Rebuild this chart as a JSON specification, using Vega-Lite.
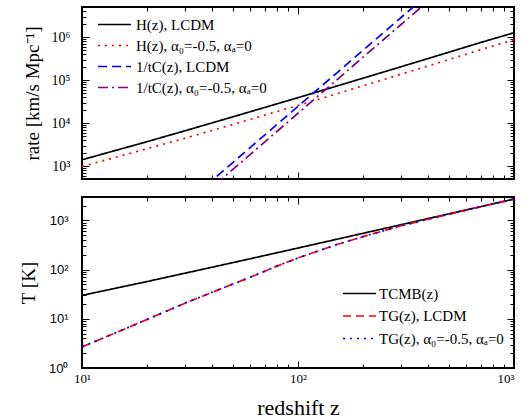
{
  "$schema": "https://vega.github.io/schema/vega-lite/v6.json",
  "padding": {"left": 18, "top": 5, "right": 5, "bottom": 0},
  "spacing": 14,
  "datasets": {
    "top": [
      {"z": 10, "rate": 1400, "series": "H(z), LCDM"},
      {"z": 20, "rate": 3690, "series": "H(z), LCDM"},
      {"z": 30, "rate": 6620, "series": "H(z), LCDM"},
      {"z": 50, "rate": 13980, "series": "H(z), LCDM"},
      {"z": 100, "rate": 38950, "series": "H(z), LCDM"},
      {"z": 150, "rate": 71700, "series": "H(z), LCDM"},
      {"z": 200, "rate": 110500, "series": "H(z), LCDM"},
      {"z": 300, "rate": 204000, "series": "H(z), LCDM"},
      {"z": 500, "rate": 445000, "series": "H(z), LCDM"},
      {"z": 700, "rate": 745000, "series": "H(z), LCDM"},
      {"z": 1000, "rate": 1260000, "series": "H(z), LCDM"},
      {"z": 10, "rate": 980, "series": "H(z), α₀=-0.5, αₐ=0"},
      {"z": 20, "rate": 2530, "series": "H(z), α₀=-0.5, αₐ=0"},
      {"z": 30, "rate": 4440, "series": "H(z), α₀=-0.5, αₐ=0"},
      {"z": 50, "rate": 9300, "series": "H(z), α₀=-0.5, αₐ=0"},
      {"z": 100, "rate": 25700, "series": "H(z), α₀=-0.5, αₐ=0"},
      {"z": 150, "rate": 47300, "series": "H(z), α₀=-0.5, αₐ=0"},
      {"z": 200, "rate": 73500, "series": "H(z), α₀=-0.5, αₐ=0"},
      {"z": 300, "rate": 136700, "series": "H(z), α₀=-0.5, αₐ=0"},
      {"z": 500, "rate": 300000, "series": "H(z), α₀=-0.5, αₐ=0"},
      {"z": 700, "rate": 506600, "series": "H(z), α₀=-0.5, αₐ=0"},
      {"z": 1000, "rate": 863000, "series": "H(z), α₀=-0.5, αₐ=0"},
      {"z": 30, "rate": 133, "series": "1/tC(z), LCDM"},
      {"z": 40, "rate": 463, "series": "1/tC(z), LCDM"},
      {"z": 60, "rate": 2680, "series": "1/tC(z), LCDM"},
      {"z": 100, "rate": 24500, "series": "1/tC(z), LCDM"},
      {"z": 150, "rate": 141600, "series": "1/tC(z), LCDM"},
      {"z": 200, "rate": 493000, "series": "1/tC(z), LCDM"},
      {"z": 300, "rate": 2850000, "series": "1/tC(z), LCDM"},
      {"z": 400, "rate": 9900000, "series": "1/tC(z), LCDM"},
      {"z": 30, "rate": 92, "series": "1/tC(z), α₀=-0.5, αₐ=0"},
      {"z": 40, "rate": 319, "series": "1/tC(z), α₀=-0.5, αₐ=0"},
      {"z": 60, "rate": 1850, "series": "1/tC(z), α₀=-0.5, αₐ=0"},
      {"z": 100, "rate": 16900, "series": "1/tC(z), α₀=-0.5, αₐ=0"},
      {"z": 150, "rate": 97500, "series": "1/tC(z), α₀=-0.5, αₐ=0"},
      {"z": 200, "rate": 339500, "series": "1/tC(z), α₀=-0.5, αₐ=0"},
      {"z": 300, "rate": 1960000, "series": "1/tC(z), α₀=-0.5, αₐ=0"},
      {"z": 400, "rate": 6820000, "series": "1/tC(z), α₀=-0.5, αₐ=0"},
      {"z": 450, "rate": 11300000, "series": "1/tC(z), α₀=-0.5, αₐ=0"}
    ],
    "bottom": [
      {"z": 10, "T": 29.98, "series": "TCMB(z)"},
      {"z": 20, "T": 57.2, "series": "TCMB(z)"},
      {"z": 50, "T": 139, "series": "TCMB(z)"},
      {"z": 100, "T": 275.2, "series": "TCMB(z)"},
      {"z": 200, "T": 547.7, "series": "TCMB(z)"},
      {"z": 500, "T": 1365, "series": "TCMB(z)"},
      {"z": 1000, "T": 2728, "series": "TCMB(z)"},
      {"z": 10, "T": 2.69, "series": "TG(z), LCDM"},
      {"z": 15, "T": 5.67, "series": "TG(z), LCDM"},
      {"z": 20, "T": 9.7, "series": "TG(z), LCDM"},
      {"z": 30, "T": 20.8, "series": "TG(z), LCDM"},
      {"z": 40, "T": 34.6, "series": "TG(z), LCDM"},
      {"z": 60, "T": 69.8, "series": "TG(z), LCDM"},
      {"z": 80, "T": 118, "series": "TG(z), LCDM"},
      {"z": 100, "T": 173, "series": "TG(z), LCDM"},
      {"z": 150, "T": 320, "series": "TG(z), LCDM"},
      {"z": 200, "T": 468, "series": "TG(z), LCDM"},
      {"z": 300, "T": 779, "series": "TG(z), LCDM"},
      {"z": 400, "T": 1060, "series": "TG(z), LCDM"},
      {"z": 600, "T": 1621, "series": "TG(z), LCDM"},
      {"z": 1000, "T": 2722, "series": "TG(z), LCDM"},
      {"z": 10, "T": 2.69, "series": "TG(z), α₀=-0.5, αₐ=0"},
      {"z": 15, "T": 5.67, "series": "TG(z), α₀=-0.5, αₐ=0"},
      {"z": 20, "T": 9.7, "series": "TG(z), α₀=-0.5, αₐ=0"},
      {"z": 30, "T": 20.8, "series": "TG(z), α₀=-0.5, αₐ=0"},
      {"z": 40, "T": 34.6, "series": "TG(z), α₀=-0.5, αₐ=0"},
      {"z": 60, "T": 69.8, "series": "TG(z), α₀=-0.5, αₐ=0"},
      {"z": 80, "T": 118, "series": "TG(z), α₀=-0.5, αₐ=0"},
      {"z": 100, "T": 173, "series": "TG(z), α₀=-0.5, αₐ=0"},
      {"z": 150, "T": 320, "series": "TG(z), α₀=-0.5, αₐ=0"},
      {"z": 200, "T": 468, "series": "TG(z), α₀=-0.5, αₐ=0"},
      {"z": 300, "T": 779, "series": "TG(z), α₀=-0.5, αₐ=0"},
      {"z": 400, "T": 1060, "series": "TG(z), α₀=-0.5, αₐ=0"},
      {"z": 600, "T": 1621, "series": "TG(z), α₀=-0.5, αₐ=0"},
      {"z": 1000, "T": 2722, "series": "TG(z), α₀=-0.5, αₐ=0"}
    ]
  },
  "vconcat": [
    {
      "width": 432,
      "height": 172,
      "data": {"name": "top"},
      "layer": [
        {
          "mark": {"type": "line", "clip": true, "strokeWidth": 1.7},
          "encoding": {
            "x": {"field": "z", "type": "quantitative", "scale": {"type": "log", "domain": [10, 1000], "nice": false},
                  "axis": {"orient": "bottom", "values": [10, 100, 1000], "labels": false, "ticks": false, "title": null}},
            "y": {"field": "rate", "type": "quantitative", "scale": {"type": "log", "domain": [500, 5000000], "nice": false},
                  "axis": {"orient": "left", "values": [1000, 10000, 100000, 1000000], "ticks": false,
                           "labelExpr": "'10' + ['⁰','¹','²','³','⁴','⁵','⁶'][round(log(datum.value)/LN10)]",
                           "labelFont": "Liberation Serif", "labelFontSize": 14, "labelPadding": 12,
                           "title": "rate [km/s Mpc⁻¹]", "titleFontSize": 19, "titlePadding": 9}},
            "color": {"field": "series", "type": "nominal",
                      "scale": {"domain": ["H(z), LCDM", "H(z), α₀=-0.5, αₐ=0", "1/tC(z), LCDM", "1/tC(z), α₀=-0.5, αₐ=0"],
                                "range": ["#000000", "#ff0000", "#0000ff", "#800080"]},
                      "legend": {"orient": "top-left", "offset": 10, "title": null, "symbolOffset": 15, "labelOffset": 14}},
            "strokeDash": {"field": "series", "type": "nominal",
                           "scale": {"domain": ["H(z), LCDM", "H(z), α₀=-0.5, αₐ=0", "1/tC(z), LCDM", "1/tC(z), α₀=-0.5, αₐ=0"],
                                     "range": [[1, 0], [2, 5], [9, 5], [10, 4, 2, 4]]},
                           "legend": {"orient": "top-left", "offset": 10, "title": null, "symbolOffset": 15, "labelOffset": 14}}
          }
        },
        {
          "mark": {"type": "line", "opacity": 0, "clip": true},
          "encoding": {
            "x": {"field": "z", "type": "quantitative", "scale": {"type": "log", "domain": [10, 1000], "nice": false},
                  "axis": {"orient": "bottom", "values": [10, 100, 1000], "labels": false, "tickSize": -7, "title": null}},
            "y": {"field": "rate", "type": "quantitative", "scale": {"type": "log", "domain": [500, 5000000], "nice": false},
                  "axis": {"orient": "left", "values": [1000, 10000, 100000, 1000000], "labels": false, "tickSize": -7, "title": null}}
          }
        },
        {
          "mark": {"type": "line", "opacity": 0, "clip": true},
          "encoding": {
            "x": {"field": "z", "type": "quantitative", "scale": {"type": "log", "domain": [10, 1000], "nice": false},
                  "axis": {"orient": "bottom", "values": [20, 30, 40, 50, 60, 70, 80, 90, 200, 300, 400, 500, 600, 700, 800, 900], "labels": false, "tickSize": -4, "title": null}},
            "y": {"field": "rate", "type": "quantitative", "scale": {"type": "log", "domain": [500, 5000000], "nice": false},
                  "axis": {"orient": "left", "values": [500, 600, 700, 800, 900, 2000, 3000, 4000, 5000, 6000, 7000, 8000, 9000, 20000, 30000, 40000, 50000, 60000, 70000, 80000, 90000, 200000, 300000, 400000, 500000, 600000, 700000, 800000, 900000, 2000000, 3000000, 4000000], "labels": false, "tickSize": -4, "title": null}}
          }
        },
        {
          "mark": {"type": "line", "opacity": 0, "clip": true},
          "encoding": {
            "x": {"field": "z", "type": "quantitative", "scale": {"type": "log", "domain": [10, 1000], "nice": false},
                  "axis": {"orient": "top", "values": [10, 100, 1000], "labels": false, "tickSize": -7, "title": null}},
            "y": {"field": "rate", "type": "quantitative", "scale": {"type": "log", "domain": [500, 5000000], "nice": false},
                  "axis": {"orient": "right", "values": [1000, 10000, 100000, 1000000], "labels": false, "tickSize": -7, "title": null}}
          }
        },
        {
          "mark": {"type": "line", "opacity": 0, "clip": true},
          "encoding": {
            "x": {"field": "z", "type": "quantitative", "scale": {"type": "log", "domain": [10, 1000], "nice": false},
                  "axis": {"orient": "top", "values": [20, 30, 40, 50, 60, 70, 80, 90, 200, 300, 400, 500, 600, 700, 800, 900], "labels": false, "tickSize": -4, "title": null}},
            "y": {"field": "rate", "type": "quantitative", "scale": {"type": "log", "domain": [500, 5000000], "nice": false},
                  "axis": {"orient": "right", "values": [500, 600, 700, 800, 900, 2000, 3000, 4000, 5000, 6000, 7000, 8000, 9000, 20000, 30000, 40000, 50000, 60000, 70000, 80000, 90000, 200000, 300000, 400000, 500000, 600000, 700000, 800000, 900000, 2000000, 3000000, 4000000], "labels": false, "tickSize": -4, "title": null}}
          }
        }
      ],
      "resolve": {"axis": {"x": "independent", "y": "independent"}}
    },
    {
      "width": 432,
      "height": 171,
      "data": {"name": "bottom"},
      "layer": [
        {
          "mark": {"type": "line", "clip": true, "strokeWidth": 1.7},
          "encoding": {
            "x": {"field": "z", "type": "quantitative", "scale": {"type": "log", "domain": [10, 1000], "nice": false},
                  "axis": {"orient": "bottom", "values": [10, 100, 1000], "ticks": false,
                           "labelExpr": "'10' + ['⁰','¹','²','³','⁴','⁵','⁶'][round(log(datum.value)/LN10)]",
                           "labelAlign": {"condition": {"test": "datum.value >= 1000", "value": "right"}, "value": "center"},
                           "labelFont": "Liberation Serif", "labelFontSize": 13, "labelPadding": 4,
                           "title": "redshift z", "titleFontSize": 22, "titlePadding": 12}},
            "y": {"field": "T", "type": "quantitative", "scale": {"type": "log", "domain": [1, 3000], "nice": false},
                  "axis": {"orient": "left", "values": [1, 10, 100, 1000], "ticks": false,
                           "labelExpr": "'10' + ['⁰','¹','²','³','⁴','⁵','⁶'][round(log(datum.value)/LN10)]",
                           "labelFont": "Liberation Sans", "labelFontSize": 13, "labelPadding": 14,
                           "title": "T [K]", "titleFontSize": 19, "titlePadding": 10}},
            "color": {"field": "series", "type": "nominal",
                      "scale": {"domain": ["TCMB(z)", "TG(z), LCDM", "TG(z), α₀=-0.5, αₐ=0"],
                                "range": ["#000000", "#ff0000", "#0000ff"]},
                      "legend": {"orient": "bottom-right", "offset": 10, "title": " ", "titleOrient": "bottom", "titleFontSize": 2, "titlePadding": 9, "rowPadding": 6.5, "labelOffset": 12}},
            "strokeDash": {"field": "series", "type": "nominal",
                           "scale": {"domain": ["TCMB(z)", "TG(z), LCDM", "TG(z), α₀=-0.5, αₐ=0"],
                                     "range": [[1, 0], [8, 5], [2, 5]]},
                           "legend": {"orient": "bottom-right", "offset": 10, "title": " ", "titleOrient": "bottom", "titleFontSize": 2, "titlePadding": 9, "rowPadding": 6.5, "labelOffset": 12}}
          }
        },
        {
          "mark": {"type": "line", "opacity": 0, "clip": true},
          "encoding": {
            "x": {"field": "z", "type": "quantitative", "scale": {"type": "log", "domain": [10, 1000], "nice": false},
                  "axis": {"orient": "bottom", "values": [10, 100, 1000], "labels": false, "tickSize": -7, "title": null}},
            "y": {"field": "T", "type": "quantitative", "scale": {"type": "log", "domain": [1, 3000], "nice": false},
                  "axis": {"orient": "left", "values": [1, 10, 100, 1000], "labels": false, "tickSize": -7, "title": null}}
          }
        },
        {
          "mark": {"type": "line", "opacity": 0, "clip": true},
          "encoding": {
            "x": {"field": "z", "type": "quantitative", "scale": {"type": "log", "domain": [10, 1000], "nice": false},
                  "axis": {"orient": "bottom", "values": [20, 30, 40, 50, 60, 70, 80, 90, 200, 300, 400, 500, 600, 700, 800, 900], "labels": false, "tickSize": -4, "title": null}},
            "y": {"field": "T", "type": "quantitative", "scale": {"type": "log", "domain": [1, 3000], "nice": false},
                  "axis": {"orient": "left", "values": [2, 3, 4, 5, 6, 7, 8, 9, 20, 30, 40, 50, 60, 70, 80, 90, 200, 300, 400, 500, 600, 700, 800, 900, 2000, 3000], "labels": false, "tickSize": -4, "title": null}}
          }
        },
        {
          "mark": {"type": "line", "opacity": 0, "clip": true},
          "encoding": {
            "x": {"field": "z", "type": "quantitative", "scale": {"type": "log", "domain": [10, 1000], "nice": false},
                  "axis": {"orient": "top", "values": [10, 100, 1000], "labels": false, "tickSize": -7, "title": null}},
            "y": {"field": "T", "type": "quantitative", "scale": {"type": "log", "domain": [1, 3000], "nice": false},
                  "axis": {"orient": "right", "values": [1, 10, 100, 1000], "labels": false, "tickSize": -7, "title": null}}
          }
        },
        {
          "mark": {"type": "line", "opacity": 0, "clip": true},
          "encoding": {
            "x": {"field": "z", "type": "quantitative", "scale": {"type": "log", "domain": [10, 1000], "nice": false},
                  "axis": {"orient": "top", "values": [20, 30, 40, 50, 60, 70, 80, 90, 200, 300, 400, 500, 600, 700, 800, 900], "labels": false, "tickSize": -4, "title": null}},
            "y": {"field": "T", "type": "quantitative", "scale": {"type": "log", "domain": [1, 3000], "nice": false},
                  "axis": {"orient": "right", "values": [2, 3, 4, 5, 6, 7, 8, 9, 20, 30, 40, 50, 60, 70, 80, 90, 200, 300, 400, 500, 600, 700, 800, 900, 2000, 3000], "labels": false, "tickSize": -4, "title": null}}
          }
        }
      ],
      "resolve": {"axis": {"x": "independent", "y": "independent"}}
    }
  ],
  "resolve": {"scale": {"color": "independent", "strokeDash": "independent"}},
  "config": {
    "font": "Liberation Serif",
    "view": {"stroke": "black", "strokeWidth": 2},
    "axis": {"domain": false, "grid": false, "minExtent": 0, "tickColor": "black", "tickWidth": 1, "labelColor": "black", "titleColor": "black",
             "labelFont": "Liberation Serif", "titleFont": "Liberation Serif", "titleFontWeight": "normal"},
    "legend": {"symbolType": "M-2.5,0H2.5", "symbolSize": 174, "symbolStrokeWidth": 1.7, "labelFont": "Liberation Serif",
               "labelFontSize": 15, "labelColor": "black", "labelOffset": 22, "rowPadding": 5, "padding": 0, "symbolFillColor": "transparent"}
  }
}
